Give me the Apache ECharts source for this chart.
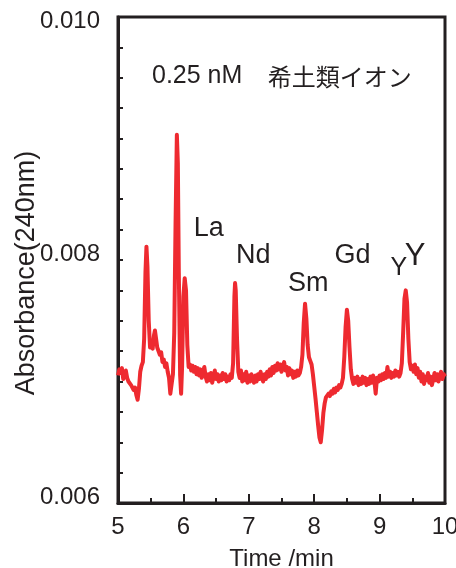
<!DOCTYPE html>
<html>
<head>
<meta charset="utf-8">
<script src="https://cdn.jsdelivr.net/npm/echarts@6/dist/echarts.min.js"></script>
<style>
html,body{margin:0;padding:0;background:#fff;}
#chart{width:456px;height:568px;}
</style>
</head>
<body>
<div id="chart"></div>
<script>
// Time (min)
const times = [
5.00,5.02,5.04,5.06,5.08,5.10,5.12,5.14,5.16,5.18,
5.20,5.22,5.24,5.26,5.28,5.30,5.32,5.34,5.36,5.38,
5.40,5.42,5.435,5.45,5.47,5.49,5.51,5.53,5.55,5.565,
5.58,5.60,5.62,5.64,5.66,5.68,5.70,5.72,5.74,5.76,
5.78,5.80,5.82,5.84,5.86,5.88,5.90,5.915,5.93,5.95,
5.965,5.98,6.00,6.02,6.04,6.06,6.08,6.10,6.12,6.14,
6.16,6.18,6.20,6.22,6.24,6.26,6.28,6.30,6.32,6.34,
6.36,6.38,6.40,6.42,6.44,6.46,6.48,6.50,6.52,6.54,
6.56,6.58,6.60,6.62,6.64,6.66,6.68,6.70,6.72,6.74,
6.76,6.78,6.79,6.80,6.82,6.84,6.86,6.88,6.90,6.92,
6.94,6.96,6.98,7.00,7.02,7.04,7.06,7.08,7.10,7.12,
7.14,7.16,7.18,7.20,7.22,7.24,7.26,7.28,7.30,7.32,
7.34,7.36,7.38,7.40,7.42,7.44,7.46,7.48,7.50,7.52,
7.54,7.56,7.58,7.60,7.62,7.64,7.66,7.68,7.70,7.72,
7.74,7.76,7.78,7.80,7.82,7.84,7.86,7.88,7.90,7.92,
7.94,7.96,7.98,8.00,8.02,8.04,8.06,8.08,8.10,8.12,
8.14,8.16,8.18,8.20,8.22,8.24,8.26,8.28,8.30,8.32,
8.34,8.36,8.38,8.40,8.42,8.44,8.46,8.48,8.50,8.52,
8.54,8.56,8.58,8.60,8.62,8.64,8.66,8.68,8.70,8.72,
8.74,8.76,8.78,8.80,8.82,8.84,8.86,8.88,8.90,8.92,
8.94,8.96,8.98,9.00,9.02,9.04,9.06,9.08,9.10,9.12,
9.14,9.16,9.18,9.20,9.22,9.24,9.26,9.28,9.30,9.32,
9.34,9.36,9.38,9.40,9.42,9.44,9.46,9.48,9.50,9.52,
9.54,9.56,9.58,9.60,9.62,9.64,9.66,9.68,9.70,9.72,
9.74,9.76,9.78,9.80,9.82,9.84,9.86,9.88,9.90,9.92,
9.94,9.96,9.98,10.00
];
// Absorbance (240 nm)
const absorbance = [
0.00705,0.00710,0.00707,0.00711,0.00702,0.00704,0.00709,0.00703,0.00700,0.00701,
0.00697,0.00698,0.00693,0.00695,0.00689,0.00685,0.00694,0.00708,0.00713,0.00716,
0.00735,0.00790,0.00811,0.00795,0.00750,0.00728,0.00730,0.00727,0.00738,0.00742,
0.00736,0.00728,0.00727,0.00722,0.00724,0.00716,0.00718,0.00712,0.00715,0.00708,
0.00703,0.00690,0.00698,0.00706,0.00740,0.00830,0.00903,0.00880,0.00790,0.00705,
0.00690,0.00712,0.00770,0.00785,0.00775,0.00730,0.00712,0.00714,0.00709,0.00713,
0.00708,0.00712,0.00706,0.00711,0.00705,0.00710,0.00703,0.00708,0.00712,0.00704,
0.00700,0.00706,0.00701,0.00707,0.00699,0.00704,0.00709,0.00702,0.00706,0.00700,
0.00705,0.00701,0.00707,0.00702,0.00706,0.00700,0.00704,0.00701,0.00706,0.00703,
0.00715,0.00770,0.00781,0.00775,0.00735,0.00708,0.00703,0.00709,0.00700,0.00706,
0.00701,0.00708,0.00699,0.00705,0.00700,0.00706,0.00702,0.00699,0.00705,0.00700,
0.00706,0.00702,0.00708,0.00703,0.00700,0.00706,0.00702,0.00708,0.00704,0.00710,
0.00705,0.00712,0.00707,0.00713,0.00709,0.00715,0.00710,0.00714,0.00708,0.00713,
0.00716,0.00709,0.00712,0.00705,0.00711,0.00706,0.00709,0.00703,0.00708,0.00704,
0.00709,0.00705,0.00707,0.00712,0.00722,0.00748,0.00764,0.00752,0.00730,0.00720,
0.00717,0.00714,0.00706,0.00696,0.00686,0.00675,0.00664,0.00654,0.00650,0.00660,
0.00674,0.00682,0.00687,0.00686,0.00690,0.00688,0.00692,0.00690,0.00694,0.00691,
0.00695,0.00693,0.00697,0.00695,0.00698,0.00703,0.00720,0.00745,0.00759,0.00750,
0.00728,0.00710,0.00702,0.00698,0.00703,0.00699,0.00704,0.00697,0.00702,0.00698,
0.00704,0.00699,0.00703,0.00697,0.00702,0.00698,0.00704,0.00699,0.00705,0.00701,
0.00690,0.00703,0.00700,0.00705,0.00701,0.00706,0.00702,0.00707,0.00703,0.00712,
0.00704,0.00708,0.00703,0.00707,0.00704,0.00709,0.00705,0.00708,0.00704,0.00707,
0.00715,0.00740,0.00768,0.00775,0.00765,0.00735,0.00716,0.00710,0.00713,0.00708,
0.00714,0.00706,0.00711,0.00703,0.00708,0.00700,0.00706,0.00698,0.00704,0.00701,
0.00707,0.00699,0.00704,0.00697,0.00702,0.00707,0.00701,0.00706,0.00700,0.00705,
0.00708,0.00702,0.00706,0.00704
];
const xTicks = [5, 6, 7, 8, 9, 10];
const yTicks = [0.006, 0.008, 0.010];
const peakNames = ['La', 'Nd', 'Sm', 'Gd', 'Y', 'Y'];
const titleText = ['0.25 nM', '希土類イオン'];
const xName = 'Time /min';
const yName = 'Absorbance(240nm)';

// annotation anchor placement (data coordinates) - layout only
const peakLabelPos = [[6.387,0.00826,27],[7.069,0.00804,27],[7.91,0.007805,27],[8.586,0.00804,27],[9.294,0.00793,25],[9.541,0.00803,31]];
const titlePos = [[5.52,0.00951],[7.29,0.00951]];

const FONT = '"Liberation Sans", Arial, sans-serif';
const INK = '#231f20';
const RED = '#ee2a30';

const chart = echarts.init(document.getElementById('chart'), null, {renderer:'canvas'});
const data = times.map((t,i)=>[t, absorbance[i]]);
const yMax = yTicks[yTicks.length-1];

chart.setOption({
  animation:false,
  backgroundColor:'#fff',
  grid:{left:118, top:17, right:11, bottom:65, containLabel:false, outerBoundsMode:'none',
        show:true, borderColor:INK, borderWidth:3, backgroundColor:'transparent'},
  xAxis:{
    type:'value', min:xTicks[0], max:xTicks[xTicks.length-1], interval:1,
    name:xName, nameLocation:'middle', nameGap:44,
    nameTextStyle:{fontFamily:FONT, fontSize:24, color:INK},
    axisLine:{lineStyle:{color:INK, width:3}},
    axisTick:{inside:true, length:9, lineStyle:{color:INK, width:2}},
    minorTick:{show:true, splitNumber:2, length:5, lineStyle:{color:INK, width:2}},
    axisLabel:{fontFamily:FONT, fontSize:24, color:INK, margin:12, showMaxLabel:true, showMinLabel:true},
    splitLine:{show:false}
  },
  yAxis:{
    type:'value', min:yTicks[0], max:yMax, interval:0.002,
    name:yName, nameLocation:'middle', nameGap:78, nameRotate:90, nameMoveOverlap:false,
    nameTextStyle:{fontFamily:FONT, fontSize:27, color:INK, padding:[0,26,0,0]},
    axisLine:{lineStyle:{color:INK, width:3}},
    axisTick:{inside:true, length:5, lineStyle:{color:INK, width:2}},
    minorTick:{show:true, splitNumber:8, length:5, lineStyle:{color:INK, width:2}},
    axisLabel:{color:INK, margin:18,
      formatter:v=>(Math.abs(v-yMax)<1e-9 ? '{b|' : '{a|')+v.toFixed(3)+'}',
      rich:{
        a:{fontFamily:FONT, fontSize:24, color:INK, padding:[0,0,12,0]},
        b:{fontFamily:FONT, fontSize:24, color:INK, padding:[9,0,0,0]}
      }},
    splitLine:{show:false}
  },
  series:[{
    type:'line', data:data, showSymbol:false, symbol:'none',
    lineStyle:{color:RED, width:4, join:'round'}, smooth:false, z:3
  }]
});

const g = [];
peakNames.forEach((n,i)=>{
  const p = chart.convertToPixel({gridIndex:0}, [peakLabelPos[i][0], peakLabelPos[i][1]]);
  g.push({type:'text', x:p[0], y:p[1], style:{text:n, fill:INK, font:peakLabelPos[i][2]+'px '+FONT, align:'center', verticalAlign:'middle'}});
});
titleText.forEach((s,i)=>{
  const p = chart.convertToPixel({gridIndex:0}, titlePos[i]);
  g.push({type:'text', x:p[0], y:p[1], style:{text:s, fill:INK, font: (i===0?'25px ':'24px ')+(i===0?FONT:'"Noto Sans CJK JP", sans-serif'), align:'left', verticalAlign:'middle'}});
});
chart.setOption({graphic:g});
</script>
</body>
</html>
